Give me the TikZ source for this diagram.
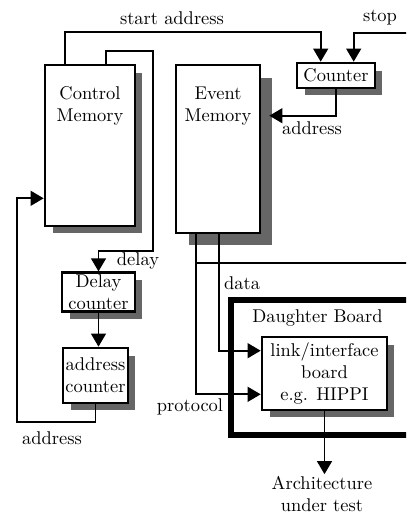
\documentclass[tikz,border=0pt]{standalone}
\usetikzlibrary{arrows.meta,calc,shadows,positioning}
\begin{document}
\begin{tikzpicture}[x=0.02cm,y=-0.02cm,
  font=\fontsize{10.5}{12.5}\selectfont,
  box/.style={draw,line width=1.5pt,fill=white,align=center,inner sep=1pt},
  shadowed/.style={drop shadow={shadow xshift=#1,shadow yshift=-#1,fill=black!60,opacity=1}},
  shadowed/.default=0.15cm,
  wire/.style={line width=1.1pt},
  arr/.style={wire,-{Triangle[length=7.5pt,width=8.5pt]}},
  lbl/.style={inner sep=1pt,align=center}]
\useasboundingbox (0,0) rectangle (406,514);
\clip (0,0) rectangle (406,514);
% --- memories and counters ---
\node[box,shadowed,minimum width=1.8cm,minimum height=3.22cm] (cm) at (90,145.5) {};
\node[lbl] (cmtxt) at ($(cm.north)+(0,42)$) {Control\\Memory};
\node[box,shadowed=0.25cm,minimum width=1.68cm,minimum height=3.36cm] (em) at (218,149) {};
\node[lbl] (emtxt) at ($(em.north)+(0,42)$) {Event\\Memory};
\node[box,shadowed,minimum width=1.56cm,minimum height=0.5cm] (cnt) at (336,75.5) {Counter};
\node[box,shadowed,minimum width=1.46cm,minimum height=0.76cm] (dc) at (98.5,292) {Delay\\counter};
\node[box,shadowed,minimum width=1.3cm,minimum height=1.1cm] (ac) at (95.5,375.5) {address\\counter};
% --- daughter board ---
\node[draw,line width=3.4pt,minimum width=4.18cm,minimum height=2.7cm] (db) at (335.5,367.5) {};
\node[lbl] (dbtxt) at (317.5,318) {Daughter Board};
\node[box,shadowed,minimum width=2.5cm,minimum height=1.46cm] (lb) at (324.5,373.5) {link/interface\\board\\e.g. HIPPI};
\node[lbl] (aut) at (322,494) {Architecture\\under test};
% --- wires ---
\coordinate (stopin) at (410,33);
\coordinate (fb) at (17,422);
\draw[arr] ($(cm.north west)+(21,0)$) -- ++(0,-32) -| ($(cnt.north west)+(25,0)$);
\draw[arr] (stopin) -| ($(cnt.north west)+(58,0)$);
\draw[arr] ($(cm.north west)+(62,0)$) -- ++(0,-13) -- ++(47,0) -- ++(0,200) -| (dc.north);
\draw[arr] (dc.south) -- (dc.south |- ac.north);
\draw[arr] (ac.south) |- (fb) |- ($(cm.south west)+(0,-29)$);
\draw[arr] (cnt.south) |- ($(em.north east)+(8,52)$);
\draw[arr] ($(em.south west)+(21,0)$) |- ($(lb.south west)+(0,-17)$);
\draw[arr] ($(em.south west)+(44,0)$) |- ($(lb.north west)+(0,15)$);
\draw[wire] ($(em.south west)+(21,29)$) -- ++(230,0);
\draw[arr] (lb.south) -- (lb.south |- aut.north);
% --- labels ---
\node[lbl] (sa) at (172,18) {start address};
\node[lbl] (stop) at (380,18) {stop};
\node[lbl] (dly) at (138,261) {delay};
\node[lbl] (cadr) at (312,128) {address};
\node[lbl] (fadr) at (52,438) {address};
\node[lbl,anchor=west] (dat) at (222,283) {data};
\node[lbl] (prot) at (190,407) {protocol};
\end{tikzpicture}
\end{document}
